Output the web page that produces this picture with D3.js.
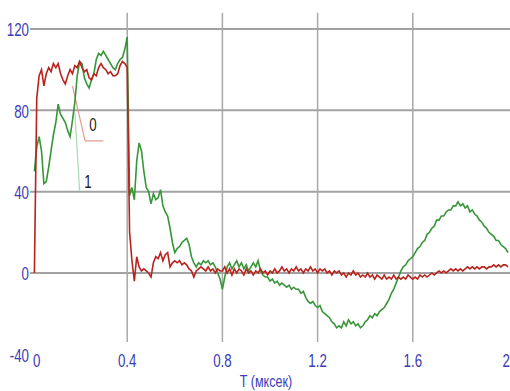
<!DOCTYPE html>
<html>
<head>
<meta charset="utf-8">
<script src="https://cdn.jsdelivr.net/npm/d3@7"></script>
<style>
  html, body { margin: 0; padding: 0; background: #fff; }
  svg { display: block; }
  .tick-label { font-family: "Liberation Sans", Arial, sans-serif; fill: #3a3cb4; }
</style>
</head>
<body>
<div id="chart"></div>
<script>
// sampling grid of the recording (mks)
var T0 = 0.01, DT = 0.01;

// curve "0" (red)
var series0 = [
  0, 86, 97, 100, 92, 98, 101, 99, 103, 101,
  103, 98, 95, 93, 97, 100, 98, 102, 101, 104,
  101, 99, 100, 96, 95, 98, 97, 101, 103, 101,
  100, 98, 99, 97, 97, 98, 102, 104, 103, 101,
  20, 6, -4, 8, 3, 1, 2, 1, 0, -2,
  5, 8, 7, 10, 6, 9, 10, 3, 5, 6,
  5, 6, 4, 5, 4, 2, 1, -2, 1, 2,
  3, 2, 1, 3, 1, 2, 0, 2, 1, 1,
  3, 0, 2, -1, 2, 0, 2, 1, -1, 2,
  0, 1, -1, 1, 0, 2, 0, 1, -1, 1,
  0, 2, 0, 1, 3, 1, 2, 0, 2, 1,
  3, 1, 2, 0, 2, 1, 3, 1, 2, 0,
  2, 1, 2, 0, 1, -1, 1, 0, 1, -1,
  0, -2, 0, -1, 1, -1, 0, -2, -1, -2,
  0, -2, -1, -3, -1, -2, -3, -1, -3, -2,
  -3, -1, -3, -2, -3, -2, -3, -1, -2, -3,
  -2, -3, -1, -2, -1, -2, -1, 0, -1, 0,
  1, 0, 1, 0, 1, 2, 1, 2, 1, 2,
  1, 2, 3, 2, 3, 2, 3, 2, 3, 3,
  2, 3, 3, 4, 3, 4, 3, 4, 4, 3
];

// curve "1" (green)
var series1 = [
  50, 62, 67, 60, 44, 45, 52, 60, 68, 74,
  83, 78, 76, 74, 70, 67, 75, 84, 97, 104,
  103, 96, 93, 91, 95, 98, 105, 108, 107, 109,
  107, 105, 103, 101, 100, 103, 105, 106, 110, 116,
  38, 42, 36, 55, 64, 60, 50, 42, 40, 34,
  39, 36, 37, 41, 33, 30, 28, 22, 15, 10,
  12, 13, 15, 16, 17, 14, 8, 5, 3, 5,
  4, 6, 5, 6, 4, 5, 3, 0, -3, -8,
  -2, 3, 5, 2, 4, 6, 3, 5, 2, 4,
  1, 3, 5, 3, 6, 1, -1, -2, -2, -4,
  -3, -5, -4, -6, -5, -6, -7, -6, -8, -7,
  -8, -8, -10, -9, -12, -14, -15, -14, -16, -17,
  -16, -19, -20, -21, -22, -24, -25, -27, -26, -27,
  -24, -26, -23, -25, -24, -26, -25, -27, -26, -24,
  -23, -21, -22, -20, -21, -19, -18, -17, -15, -13,
  -10, -8, -5, -2, 1, 3, 4, 6, 7, 8,
  10, 12, 13, 15, 16, 19, 20, 22, 23, 26,
  26, 28, 28, 30, 31, 31, 33, 33, 35, 33,
  34, 32, 33, 30, 31, 29, 28, 26, 25, 23,
  22, 20, 19, 18, 16, 16, 14, 13, 12, 10
];

var xTicks = [0, 0.4, 0.8, 1.2, 1.6, 2];
var xTickLabels = ["0", "0.4", "0.8", "1.2", "1.6", "2"];
var yTicks = [120, 80, 40, 0, -40];
var yTickLabels = ["120", "80", "40", "0", "-40"];
var xTitle = "T (мксек)";

var W = 510, H = 391;
var squeeze = 0.74; // the original lettering is narrow

var x = d3.scaleLinear().domain([0, 2]).range([32, 508]);
var y = d3.scaleLinear().domain([-40, 120]).range([354.3, 29]);

var svg = d3.select("#chart").append("svg").attr("width", W).attr("height", H);

// horizontal grid
svg.selectAll(".hgrid").data(yTicks.filter(function (d) { return d >= 0; })).enter().append("line")
  .attr("x1", x(-0.008)).attr("x2", W)
  .attr("y1", function (d) { return y(d); }).attr("y2", function (d) { return y(d); })
  .style("stroke", "#a2a2a2").style("stroke-width", 2);

// vertical grid
svg.selectAll(".vgrid").data(xTicks.filter(function (d) { return d > 0 && d < 2; })).enter().append("line")
  .attr("x1", function (d) { return x(d); }).attr("x2", function (d) { return x(d); })
  .attr("y1", y(128)).attr("y2", y(-34))
  .style("stroke", "#a8a8a8").style("stroke-width", 1.5);

function place(px, py) {
  return "translate(" + px + "," + py + ") scale(" + squeeze + ",1)";
}

// y labels
svg.selectAll(".ylab").data(yTicks).enter().append("text")
  .attr("class", "tick-label")
  .attr("transform", function (d) { return place(29, y(d) + 1); })
  .attr("text-anchor", "end")
  .attr("dominant-baseline", "central")
  .style("font-size", "18px")
  .text(function (d, i) { return yTickLabels[i]; });

// x labels
svg.selectAll(".xlab").data(xTicks).enter().append("text")
  .attr("class", "tick-label")
  .attr("transform", function (d) {
    var px = d == 0 ? x(d) + 1 : (d == 2 ? W : x(d));
    return place(px, 367);
  })
  .attr("text-anchor", function (d) { return d == 0 ? "start" : (d == 2 ? "end" : "middle"); })
  .style("font-size", "18px")
  .text(function (d, i) { return xTickLabels[i]; });

svg.append("text")
  .attr("class", "tick-label")
  .attr("transform", place(266, 387))
  .attr("text-anchor", "middle")
  .style("font-size", "17px")
  .text(xTitle);

var line = d3.line()
  .x(function (d, i) { return x(T0 + i * DT); })
  .y(function (d) { return y(d); });

// leader lines for curve labels
svg.append("path")
  .attr("d", "M" + x(0.17) + "," + y(92) + "L" + x(0.223) + "," + y(65) + "L" + x(0.3) + "," + y(65))
  .style("fill", "none").style("stroke", "#e49a94").style("stroke-width", 1.2);
svg.append("path")
  .attr("d", "M" + x(0.18) + "," + y(79) + "L" + x(0.2) + "," + y(40.5))
  .style("fill", "none").style("stroke", "#a8dcb8").style("stroke-width", 1.2);

svg.append("path").datum(series1)
  .attr("d", line)
  .style("fill", "none").style("stroke", "#379637").style("stroke-width", 1.6);

svg.append("path").datum(series0)
  .attr("d", line)
  .style("fill", "none").style("stroke", "#b8231e").style("stroke-width", 1.6);

svg.append("text")
  .attr("transform", place(93, 131))
  .attr("text-anchor", "middle")
  .style("font-family", "Liberation Sans, Arial, sans-serif")
  .style("font-size", "18px").style("fill", "#222")
  .text("0");
svg.append("text")
  .attr("transform", place(88, 188))
  .attr("text-anchor", "middle")
  .style("font-family", "Liberation Sans, Arial, sans-serif")
  .style("font-size", "18px").style("fill", "#222")
  .text("1");
</script>
</body>
</html>
